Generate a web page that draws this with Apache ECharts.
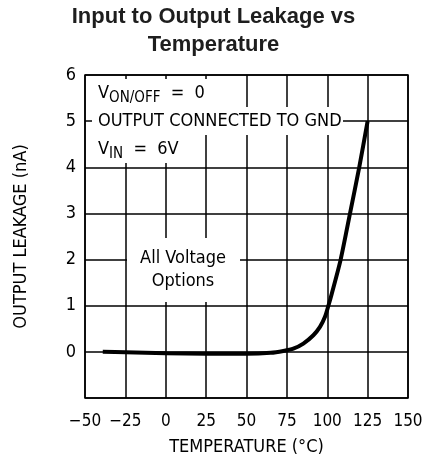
<!DOCTYPE html>
<html>
<head>
<meta charset="utf-8">
<script src="https://cdn.jsdelivr.net/npm/echarts@6/dist/echarts.min.js"></script>
<style>
  html, body { margin: 0; padding: 0; background: #fff; }
  #chart { width: 427px; height: 469px; }
</style>
</head>
<body>
<div id="chart"></div>
<script>
// Leakage current (nA) versus junction temperature (°C)
const temperature = [-39, -25, 0, 25, 50, 65, 72.8, 79, 85.2, 91.4, 95.5, 98.6, 100.7, 102.8, 108.3, 114.1, 119.8, 125];
const leakage     = [0, -0.01, -0.03, -0.04, -0.04, -0.02, 0.02, 0.07, 0.18, 0.36, 0.54, 0.76, 1.0, 1.26, 2.0, 3.0, 4.0, 5.0];

const xTicks = [-50, -25, 0, 25, 50, 75, 100, 125, 150];
const yTicks = [-1, 0, 1, 2, 3, 4, 5, 6];

const gothic = "'DejaVu Sans Condensed', 'Liberation Sans Narrow', 'Liberation Sans', sans-serif";

const chart = echarts.init(document.getElementById('chart'));

const option = {
  backgroundColor: '#fff',
  animation: false,
  title: {
    text: 'Input to Output Leakage vs\nTemperature',
    left: 'center',
    top: -2,
    textStyle: {
      fontFamily: "'Liberation Sans', Arial, sans-serif",
      fontWeight: 'bold',
      fontSize: 22,
      lineHeight: 28,
      color: '#1e1e1e'
    }
  },
  grid: {
    left: 85, right: 19, top: 75, bottom: 71,
    show: true, borderColor: '#000', borderWidth: 1.5
  },
  xAxis: {
    type: 'value',
    min: xTicks[0], max: xTicks[xTicks.length - 1], interval: 25,
    name: 'TEMPERATURE (°C)',
    nameLocation: 'middle',
    nameGap: 40,
    nameTextStyle: { fontFamily: gothic, fontSize: 18, color: '#000' },
    axisLine: { show: false },
    axisTick: { show: false },
    splitLine: { show: true, lineStyle: { color: '#000', width: 1.5 } },
    axisLabel: {
      margin: 15,
      fontFamily: gothic, fontSize: 17, color: '#000',
      formatter: v => String(v).replace('-', '\u2212')
    }
  },
  yAxis: {
    type: 'value',
    min: yTicks[0], max: yTicks[yTicks.length - 1], interval: 1,
    name: 'OUTPUT LEAKAGE (nA)',
    nameLocation: 'middle',
    nameGap: 55,
    nameTextStyle: { fontFamily: gothic, fontSize: 18, color: '#000' },
    axisLine: { show: false },
    axisTick: { show: false },
    splitLine: { show: true, lineStyle: { color: '#000', width: 1.5 } },
    axisLabel: {
      margin: 9,
      fontFamily: gothic, fontSize: 18, color: '#000',
      formatter: v => (v < 0 ? '' : String(v))
    }
  },
  series: [{
    type: 'line',
    data: temperature.map((t, i) => [t, leakage[i]]),
    smooth: 0.25,
    showSymbol: false,
    lineStyle: { color: '#000', width: 4 },
    z: 5
  }],
  graphic: [
    // white panels that sit on the grid behind the notes
    { type: 'rect', z: 10, shape: { x: 92, y: 79, width: 123, height: 28 }, style: { fill: '#fff' } },
    { type: 'rect', z: 10, shape: { x: 92, y: 107, width: 251, height: 28 }, style: { fill: '#fff' } },
    { type: 'rect', z: 10, shape: { x: 92, y: 135, width: 110, height: 28 }, style: { fill: '#fff' } },
    { type: 'rect', z: 10, shape: { x: 127, y: 238, width: 113, height: 64 }, style: { fill: '#fff' } },
    {
      type: 'text', z: 11, x: 98, y: 93,
      style: {
        text: '{m|V}{s|ON/OFF}{m|  =  0}',
        verticalAlign: 'middle',
        rich: {
          m: { fontFamily: gothic, fontSize: 18, fill: '#000' },
          s: { fontFamily: gothic, fontSize: 15, fill: '#000', padding: [10, 0, 0, 0] }
        }
      }
    },
    {
      type: 'text', z: 11, x: 98, y: 121,
      style: {
        text: 'OUTPUT CONNECTED TO GND',
        verticalAlign: 'middle',
        fontFamily: gothic, fontSize: 18, fill: '#000'
      }
    },
    {
      type: 'text', z: 11, x: 98, y: 149,
      style: {
        text: '{m|V}{s|IN}{m|  =  6V}',
        verticalAlign: 'middle',
        rich: {
          m: { fontFamily: gothic, fontSize: 18, fill: '#000' },
          s: { fontFamily: gothic, fontSize: 15, fill: '#000', padding: [10, 0, 0, 0] }
        }
      }
    },
    {
      type: 'text', z: 11, x: 183, y: 270,
      style: {
        text: 'All Voltage\nOptions',
        align: 'center',
        verticalAlign: 'middle',
        lineHeight: 23,
        fontFamily: gothic, fontSize: 18, fill: '#000'
      }
    }
  ]
};

chart.setOption(option);
</script>
</body>
</html>
